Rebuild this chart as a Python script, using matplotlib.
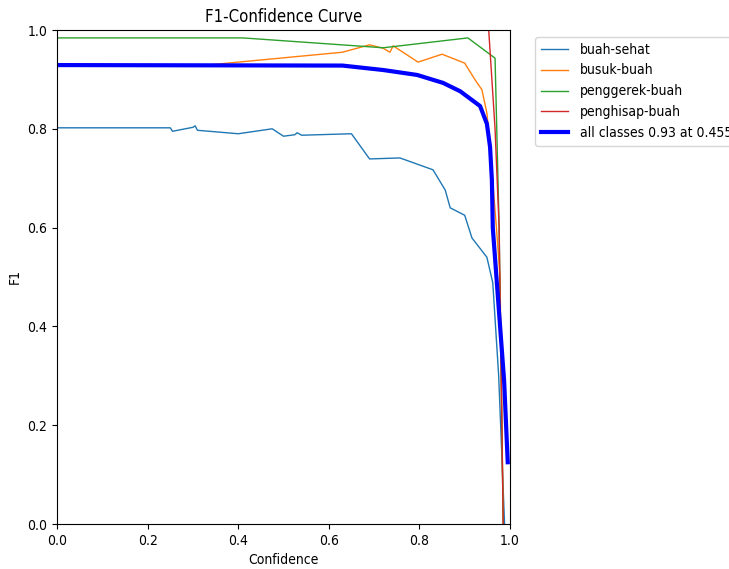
import matplotlib
matplotlib.use("Agg")
import matplotlib.pyplot as plt

# ---- data ----
sehat_x = [0.0, 0.25, 0.255, 0.30, 0.305, 0.31, 0.40, 0.475, 0.50, 0.525, 0.53, 0.54, 0.65, 0.69, 0.757, 0.83, 0.857, 0.868, 0.90, 0.916, 0.949, 0.962, 0.975, 0.988]
sehat_y = [0.802, 0.802, 0.795, 0.803, 0.806, 0.797, 0.79, 0.80, 0.785, 0.788, 0.792, 0.787, 0.79, 0.739, 0.741, 0.717, 0.676, 0.64, 0.625, 0.579, 0.54, 0.488, 0.30, 0.0]

busuk_x = [0.0, 0.32, 0.63, 0.69, 0.72, 0.735, 0.742, 0.797, 0.85, 0.90, 0.923, 0.938, 0.949, 0.956, 0.97, 0.978, 0.985]
busuk_y = [0.928, 0.928, 0.955, 0.97, 0.963, 0.955, 0.968, 0.935, 0.951, 0.933, 0.899, 0.879, 0.832, 0.763, 0.60, 0.50, 0.0]

penggerek_x = [0.0, 0.41, 0.69, 0.72, 0.907, 0.967, 0.976, 0.985]
penggerek_y = [0.984, 0.984, 0.966, 0.964, 0.984, 0.943, 0.60, 0.0]

penghisap_x = [0.0, 0.953, 0.967, 0.976, 0.985]
penghisap_y = [1.0, 1.0, 0.80, 0.60, 0.0]

all_x = [0.0, 0.63, 0.72, 0.795, 0.852, 0.89, 0.934, 0.949, 0.956, 0.96, 0.962, 0.987, 0.995]
all_y = [0.929, 0.928, 0.919, 0.909, 0.893, 0.876, 0.846, 0.81, 0.763, 0.696, 0.60, 0.29, 0.125]

class_names = ["buah-sehat", "busuk-buah", "penggerek-buah", "penghisap-buah"]
all_label = "all classes 0.93 at 0.455"
x_ticks = [0.0, 0.2, 0.4, 0.6, 0.8, 1.0]
y_ticks = [0.0, 0.2, 0.4, 0.6, 0.8, 1.0]

plt.rcParams['font.family'] = ['DejaVu Sans']
plt.rcParams['font.stretch'] = 'condensed'

fig = plt.figure(figsize=(7.29, 5.69), dpi=100)
ax = fig.add_axes([57/729, 45/569, 453/729, 494/569])

series = [(sehat_x, sehat_y), (busuk_x, busuk_y), (penggerek_x, penggerek_y), (penghisap_x, penghisap_y)]
for (xs, ys), name in zip(series, class_names):
    ax.plot(xs, ys, linewidth=1, label=name)
ax.plot(all_x, all_y, linewidth=3, color='blue', label=all_label)

ax.set_xlim(0, 1)
ax.set_ylim(0, 1)
ax.set_xticks(x_ticks)
ax.set_yticks(y_ticks)
ax.set_xlabel("Confidence")
ax.set_ylabel("F1")
ax.set_title("F1-Confidence Curve")
ax.legend(bbox_to_anchor=(1.04, 1), loc="upper left")

fig.savefig("out.png", dpi=100)
